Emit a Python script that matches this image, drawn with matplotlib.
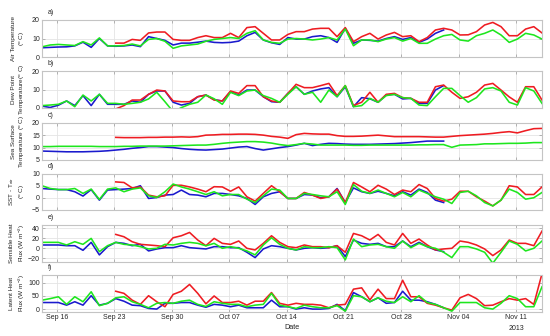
import numpy as np
import pandas as pd
import matplotlib
matplotlib.use('Agg')
import matplotlib.pyplot as plt
import matplotlib.dates as mdates
import matplotlib.transforms as mtransforms

nan = np.nan

# daily values, Sep 14 - Nov 14 2013
dates = pd.date_range('2013-09-14 04:00', periods=62, freq='D')

# a) air temperature
air_blue = [5.0, 5.2, 5.4, 5.5, 6.0, 8.0, 5.2, 10.0, 6.0, 5.8, 6.0, 6.5, 5.6, 11.0, 10.0, 9.0, 6.5, 7.5, 7.5, 8.0,
            8.6, 7.9, 7.7, 7.9, 8.6, 11.5, 13.3, 9.2, 7.7, 6.8, 10.5, 9.7, 9.7, 11.0, 11.5, 10.5, 7.9, 15.5, 7.4, 9.2,
            9.0, 8.6, 10.0, 11.0, 9.5, 10.5, 7.9, 9.7, 12.8, 14.6] + [nan] * 12
air_red = [nan] * 9 + [7.5, 7.5, 9.5, 9.0, 13.0, 13.5, 13.5, 9.5, 9.0, 9.0, 10.5,
           11.5, 10.5, 10.5, 12.8, 10.5, 15.9, 16.4, 12.8, 9.2, 9.2, 12.2, 13.7, 13.7, 15.1, 15.5, 15.5, 11.0, 15.9, 8.3, 11.0,
           12.8, 9.7, 11.9, 13.3, 11.0, 11.5, 8.3, 10.5, 14.6, 15.5, 14.6, 11.9, 12.0, 13.7, 17.3, 18.7, 16.4, 11.5, 11.5, 15.1,
           16.4, 13.0]
air_green = [5.5, 6.5, 6.8, 6.5, 6.2, 8.3, 6.5, 10.3, 6.0, 6.0, 6.2, 7.0, 6.0, 9.5, 10.0, 8.5, 4.7, 6.0, 6.5, 7.0,
             8.5, 9.5, 10.0, 10.5, 10.0, 12.8, 14.2, 9.2, 7.9, 7.4, 9.7, 10.0, 9.7, 9.2, 9.7, 10.5, 9.2, 15.1, 6.1, 9.2,
             9.2, 8.3, 9.7, 10.5, 8.6, 10.0, 7.4, 7.4, 9.7, 11.5, 12.2, 9.2, 8.6, 11.5, 12.8, 14.6, 11.9, 7.9, 9.7, 12.8,
             11.9, 9.7]

# b) dew point
dew_blue = [1.0, 0.3, 1.5, 3.8, 1.3, 6.7, 1.3, 7.4, 2.0, 2.0, 2.0, 3.8, 3.1, 7.4, 9.2, 9.2, 3.1, 1.6, 2.5, 6.1,
            7.0, 4.5, 3.8, 8.8, 7.0, 9.7, 9.7, 6.1, 3.4, 3.1, 7.9, 11.5, 7.4, 9.2, 10.3, 11.0, 6.1, 11.5, 0.7, 5.6,
            5.0, 3.1, 7.0, 7.4, 4.9, 5.2, 2.5, 2.5, 9.7, 12.1] + [nan] * 12
dew_red = [nan] * 9 + [-0.5, 1.3, 4.3, 4.3, 7.4, 9.7, 9.2, 3.8, 3.4, 3.4, 6.1,
           7.0, 4.3, 3.8, 9.2, 7.9, 12.1, 12.1, 6.1, 3.8, 3.1, 7.9, 12.8, 11.0, 11.0, 12.1, 13.3, 6.7, 12.1, 1.3, 3.1,
           8.5, 3.1, 7.4, 7.9, 5.6, 5.2, 3.1, 3.1, 11.5, 12.4, 8.5, 5.2, 6.1, 8.5, 12.4, 13.3, 9.7, 6.0, 3.1, 11.5,
           11.5, 4.3]
dew_green = [1.3, 1.6, 2.0, 3.8, 0.7, 7.0, 3.8, 7.4, 2.5, 2.5, 2.0, 2.5, 3.1, 4.9, 8.5, 3.4, -2.0, 0.2, 2.0, 3.1,
             7.0, 5.0, 2.0, 8.5, 6.7, 9.2, 9.7, 6.7, 5.2, 3.1, 7.4, 11.5, 7.4, 8.5, 3.1, 9.7, 6.1, 12.1, 0.7, 1.3,
             5.2, 3.1, 6.7, 7.4, 5.6, 5.2, 1.6, 1.3, 6.1, 10.6, 10.6, 6.7, 3.1, 5.6, 10.3, 11.0, 9.2, 3.1, 1.6, 11.0,
             9.2, 2.5]

# c) sea surface temperature
sst_blue = [8.6, 8.5, 8.4, 8.3, 8.3, 8.3, 8.4, 8.5, 8.7, 9.0, 9.3, 9.7, 10.0, 10.4, 10.4, 10.2, 10.0, 9.6, 9.3, 9.1,
            9.0, 9.2, 9.4, 9.8, 10.2, 10.4, 9.6, 9.0, 9.5, 10.0, 10.4, 11.0, 11.7, 10.8, 11.3, 11.7, 11.6, 11.4, 11.3, 11.3,
            11.3, 11.4, 11.5, 11.6, 11.8, 12.0, 12.3, 12.6, 12.6, 12.6] + [nan] * 12
sst_red = [nan] * 9 + [14.1, 14.0, 14.0, 14.0, 14.1, 14.1, 14.2, 14.2, 14.3, 14.2, 14.4,
           15.0, 15.1, 15.3, 15.3, 15.4, 15.4, 15.3, 15.0, 14.5, 14.2, 13.7, 15.2, 15.7, 15.5, 15.4, 15.4, 14.8, 14.5, 14.5, 14.6,
           14.8, 15.0, 14.7, 14.4, 14.4, 14.4, 14.4, 14.3, 14.2, 14.2, 14.5, 14.8, 15.0, 15.2, 15.4, 15.7, 16.1, 16.4, 15.9, 16.8,
           17.6, 17.7]
sst_green = [10.4, 10.4, 10.5, 10.5, 10.5, 10.5, 10.5, 10.4, 10.4, 10.4, 10.5, 10.5, 10.6, 10.6, 10.6, 10.6, 10.7, 10.8, 10.9, 11.0,
             11.0, 11.3, 11.7, 12.0, 12.2, 12.4, 12.4, 12.2, 11.8, 11.2, 10.8, 11.2, 11.7, 11.4, 11.0, 11.0, 11.0, 11.0, 10.9, 10.9,
             11.0, 11.0, 11.0, 11.0, 11.0, 11.0, 11.1, 11.1, 11.2, 11.2, 10.1, 11.0, 11.1, 11.2, 11.5, 11.5, 11.6, 11.7, 11.7, 11.8,
             12.0, 12.0]

# d) SST - T_air
dt_blue = [3.75, 3.5, 3.3, 3.3, 2.4, 0.6, 3.3, -1.1, 3.1, 3.3, 3.5, 3.75, 4.9, -0.4, 0.0, 1.0, 1.25, 3.1, 1.25, 1.0,
           0.3, 1.7, 1.7, 1.25, 0.7, -0.4, -2.9, 0.3, 1.7, 2.4, -0.4, -0.4, 1.25, 1.0, -0.1, 0.3, 3.75, -2.1, 4.0, 2.4,
           1.7, 2.6, 1.7, 0.7, 2.4, 1.0, 3.5, 2.1, -1.1, -2.1] + [nan] * 12
dt_red = [nan] * 9 + [6.5, 6.25, 4.0, 4.4, 1.0, 0.3, 0.7, 5.1, 5.1, 4.4, 3.5,
          2.4, 4.5, 4.4, 2.6, 4.4, 0.3, -1.5, 1.7, 4.9, 2.4, -0.4, -0.4, 2.1, 1.0, -0.4, 0.3, 3.5, -2.1, 6.25, 4.4,
          2.4, 5.1, 3.5, 1.25, 3.1, 2.4, 5.4, 3.75, -0.4, -1.5, -0.7, 2.6, 2.6, 0.3, -1.5, -3.5, -1.1, 4.9, 4.4, 1.25,
          1.25, 4.4]
dt_green = [4.9, 3.75, 3.3, 3.3, 3.75, 1.7, 3.5, -0.8, 3.5, 4.0, 2.4, 3.5, 4.0, 0.7, 0.0, 2.4, 5.6, 4.4, 3.5, 2.4,
            1.25, 2.4, 0.7, 1.25, 1.25, -0.7, -2.1, 0.7, 3.5, 3.1, -0.4, -0.4, 1.7, 1.25, 0.7, 0.3, 2.4, -2.9, 5.4, 2.6,
            1.7, 3.1, 1.7, 0.3, 2.1, 0.3, 3.1, 1.7, 0.3, -0.7, -2.5, 2.1, 2.6, 0.7, -2.1, -3.5, -1.1, 3.5, 2.1, -0.7,
            -0.1, 2.1]

# e) sensible heat flux
sh_blue = [6.7, 6.7, 6.7, 5.3, 5.3, -4.0, 12.0, -13.3, 3.3, 12.0, 10.0, 5.3, 8.0, -5.3, -1.3, 1.3, 1.3, 5.3, 1.3, 0.0,
           -1.3, 3.3, 3.3, 1.3, 1.3, -8.0, -18.7, -1.3, 5.3, 3.3, 0.0, -3.3, 0.0, 1.3, 0.0, 1.3, 5.3, -16.7, 16.7, 10.0,
           8.0, 10.0, 3.3, 3.3, 14.7, 3.3, 12.0, 3.3, -3.3, -6.7] + [nan] * 12
sh_red = [nan] * 9 + [28.0, 23.3, 13.3, 8.0, 6.7, 5.3, 3.3, 21.3, 25.3, 32.0, 16.7,
          5.3, 20.0, 10.0, 8.0, 14.7, 0.0, -3.3, 10.0, 25.3, 12.0, 3.3, 1.3, 6.7, 3.3, 3.3, 1.3, 5.3, -8.0, 30.0, 25.3,
          16.7, 28.0, 12.0, 6.7, 30.0, 10.0, 18.7, 6.7, -3.3, -1.3, 0.0, 14.7, 12.0, 6.7, -1.3, -14.7, -3.3, 16.7, 10.0, 10.0,
          5.3, 34.7]
sh_green = [12.0, 12.0, 12.0, 6.7, 13.3, 8.0, 20.0, -6.7, 5.3, 12.0, 8.0, 6.7, 3.3, -1.3, 0.0, 8.0, 6.7, 10.0, 12.0, 10.0,
            5.0, 10.0, 0.0, 3.3, 0.0, -5.3, -13.3, 6.7, 21.3, 8.0, 0.0, -3.3, 3.3, 1.3, 1.3, 3.3, 1.3, -23.3, 18.7, 3.3,
            6.7, 8.0, 3.3, 0.0, 14.7, 1.3, 10.0, 3.3, 0.0, -8.0, -18.7, 3.3, 3.3, -1.3, -8.0, -30.0, -8.0, 14.7, 8.0, -5.3,
            0.0, 14.7]

# f) latent heat flux
lh_blue = [25, 25, 25, 15, 28, 15, 51, 15, 22, 40, 30, 15, 13, 2.5, 0, 22, 22, 25, 25, 15,
           7, 18, 15, 9, 15, 5, 5, 5, 34, 9, 9, 0, 5, 0, 0, 2.5, 18, -6, 63, 47,
           28, 43, 22, 25, 68, 34, 34, 28, 18, 5] + [nan] * 12
lh_red = [nan] * 9 + [68, 60, 34, 18, 51, 28, 9, 56, 68, 94, 60,
          20, 50, 25, 25, 30, 15, 30, 30, 63, 22, 15, 22, 18, 18, 15, 5, 15, 18, 76, 81,
          35, 76, 40, 40, 110, 47, 47, 22, 15, 5, -4, 43, 56, 40, 13, 15, 28, 40, 34, 40,
          18, 135]
lh_green = [34, 40, 47, 18, 47, 28, 66, 13, 22, 43, 47, 28, 18, 5, 22, 25, 22, 30, 34, 18,
            10, 28, 22, 18, 18, 9, 15, 18, 60, 15, 9, 2.5, 15, 9, 5, 5, 13, -8, 51, 47,
            28, 43, 30, 25, 47, 28, 51, 25, 18, 5, -8, 25, 25, 25, 5, 0, 22, 51, 40, 9,
            9, 85]

panels = [
    ('a)', 'Air Temperature\n($^o$ C)', air_blue, air_red, air_green, (0, 20), [0, 10, 20], 57.0, 37.0),
    ('b)', 'Dew Point\nTemperature($^o$ C)', dew_blue, dew_red, dew_green, (0, 20), [0, 10, 20], 108.0, 37.0),
    ('c)', 'Sea Surface\nTemperature ($^o$ C)', sst_blue, sst_red, sst_green, (5, 20), [5, 10, 15, 20], 160.0, 37.3),
    ('d)', 'SST - T$_{air}$\n($^o$ C)', dt_blue, dt_red, dt_green, (-5, 10), [-5, 0, 5, 10], 209.5, 36.0),
    ('e)', 'Sensible Heat\nFlux (W m$^{-2}$)', sh_blue, sh_red, sh_green, (-27, 47), [-20, 0, 20, 40], 261.7, 36.7),
    ('f)', 'Latent Heat\nFlux (W m$^{-2}$)', lh_blue, lh_red, lh_green, (-10, 130), [0, 50, 100], 311.7, 36.7),
]

plt.rcParams['font.family'] = ['Liberation Sans', 'DejaVu Sans']
plt.rcParams['mathtext.fontset'] = 'custom'
plt.rcParams['mathtext.rm'] = 'Liberation Sans'
plt.rcParams['mathtext.it'] = 'Liberation Sans'

W, H = 550, 336
fig = plt.figure(figsize=(5.5, 3.36), dpi=100)

fs = 5.0
frame = '#c4c4c4'
for i, (tag, ylab, b, r, g, ylim, yt, bot, hgt) in enumerate(panels):
    ax = fig.add_axes([42 / W, 1 - bot / H, 500 / W, hgt / H])
    ax.plot(dates, b, color='#1a1acd', lw=1.15)
    ax.plot(dates, r, color='#ee1c22', lw=1.15)
    ax.plot(dates, g, color='#1ee61e', lw=1.15)
    ax.set_xlim(dates[0], dates[-1])
    ax.set_ylim(*ylim)
    ax.set_yticks(yt)
    ax.xaxis.set_major_locator(mdates.WeekdayLocator(byweekday=mdates.MO))
    ax.xaxis.set_major_formatter(mdates.DateFormatter('%b %d'))
    ax.grid(True, color='#e4e4e4', lw=0.6)
    ax.set_axisbelow(True)
    for s in ax.spines.values():
        s.set_color(frame)
        s.set_linewidth(0.8)
    ax.tick_params(direction='in', length=2, width=0.5, color='#999999', labelsize=fs,
                   labelcolor='#262626', pad=1.5, top=True, right=True)
    if i < len(panels) - 1:
        ax.tick_params(labelbottom=False)
    ax.set_ylabel(ylab, fontsize=4.6, color='#262626', linespacing=1.35)
    ax.yaxis.set_label_coords(-0.03, 0.5)
    ax.text(0.012, 1.1, tag, transform=ax.transAxes, fontsize=fs, color='#262626',
            ha='left', va='bottom')

ax.set_xlabel('Date', fontsize=fs + 0.2, color='#262626', labelpad=2.5)
trans = mtransforms.blended_transform_factory(ax.transData, ax.transAxes)
ax.text(pd.Timestamp('2013-11-11'), -0.36, '2013', transform=trans, fontsize=fs,
        color='#262626', ha='center', va='top')

fig.savefig('out.png', dpi=100)
